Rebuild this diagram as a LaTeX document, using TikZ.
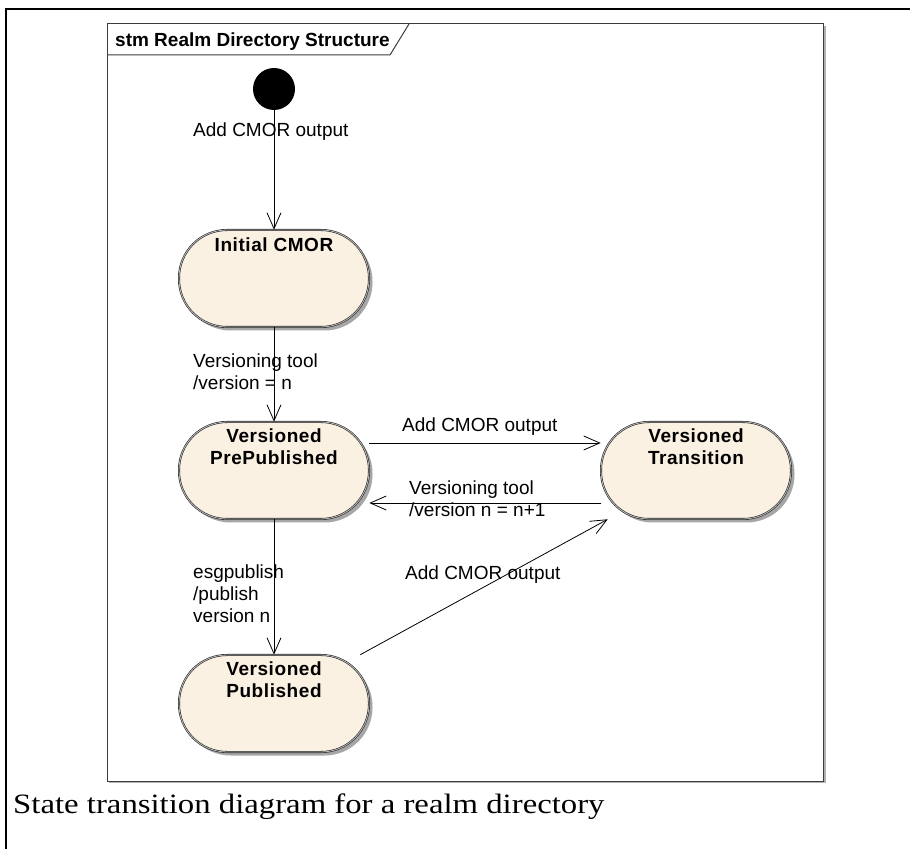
\documentclass[tikz,border=0pt]{standalone}
\usepackage{fontspec}
\setmainfont{Liberation Sans}
\newfontfamily\captionserif{Liberation Serif}
\usetikzlibrary{arrows.meta,shadows}
\definecolor{statefill}{RGB}{251,241,227}
\definecolor{framegray}{RGB}{60,60,60}
\newcommand\labelfont{\fontsize{19}{22}\selectfont}
\begin{document}
\begin{tikzpicture}[x=1pt,y=1pt,
  every node/.style={inner sep=0pt},
  state/.style={rectangle, rounded corners=48pt, minimum width=190pt, minimum height=97pt,
    fill=statefill, draw=black!85, line width=0.6pt, double=black!25, double distance=0.8pt,
    drop shadow={shadow xshift=3.5pt, shadow yshift=-3.5pt, fill=black!35, opacity=1}},
  statetext/.style={font=\bfseries\labelfont\addfontfeatures{LetterSpace=3}, anchor=base},
  lbl/.style={font=\labelfont, anchor=base west},
  trans/.style={draw=black, line width=0.8pt, -{Straight Barb[length=16pt,width=14pt]}}]
\useasboundingbox (0,0) rectangle (910,849);

% page border lines
\draw[line width=1.5pt] (6,0) -- (6,840) -- (910,840);

% diagram frame with its shadow and name tab
\draw[black!30, line width=1.5pt] (109,66.5) -- (824.8,66.5) -- (824.8,823);
\draw[framegray, line width=1pt] (107,68) rectangle (823,825);
\draw[framegray, line width=1pt] (107,794) -- (390,794) -- (409,825);
\node[anchor=base west, font=\bfseries\labelfont] (title) at (115,802) {stm Realm Directory Structure};

% initial pseudo-state
\node[circle, fill=black, minimum size=42pt] (init) at (274,760) {};

% states
\node[state] (s1) at (274,570.5) {};
\node[statetext] (s1t) at ([yshift=-22pt]s1.north) {Initial CMOR};
\node[state] (s2) at (274,378.5) {};
\node[statetext] (s2t) at ([yshift=-21pt]s2.north) {\begin{tabular}[t]{@{}c@{}}Versioned\\PrePublished\end{tabular}};
\node[state] (s3) at (696,378.5) {};
\node[statetext] (s3t) at ([yshift=-21pt]s3.north) {\begin{tabular}[t]{@{}c@{}}Versioned\\Transition\end{tabular}};
\node[state] (s4) at (274,145.5) {};
\node[statetext] (s4t) at ([yshift=-21pt]s4.north) {\begin{tabular}[t]{@{}c@{}}Versioned\\Published\end{tabular}};

% transitions
\draw[trans] (init) -- (s1);
\draw[trans] (s1) -- (s2);
\draw[trans] ([yshift=27.5pt]s2.east) -- ([yshift=27.5pt]s3.west);
\draw[trans] ([yshift=-32.5pt]s3.west) -- ([yshift=-32.5pt]s2.east);
\draw[trans] (s2) -- (s4);
\draw[trans] ([xshift=-9pt]s4.north east) -- ([xshift=7pt]s3.south west);

% transition labels
\node[lbl] (l1) at (193,712) {Add CMOR output};
\node[lbl] (l2) at (193,481) {\begin{tabular}[t]{@{}l@{}}Versioning tool\\/version = n\end{tabular}};
\node[lbl] (l3) at (402,417) {Add CMOR output};
\node[lbl] (l4) at (409,354) {\begin{tabular}[t]{@{}l@{}}Versioning tool\\/version n = n+1\end{tabular}};
\node[lbl] (l5) at (193,270) {\begin{tabular}[t]{@{}l@{}}esgpublish\\/publish\\version n\end{tabular}};
\node[lbl] (l6) at (405,269) {Add CMOR output};

% caption
\node[anchor=base west, font=\captionserif\fontsize{28}{32}\selectfont, xscale=1.17] (cap) at (13,36) {State transition diagram for a realm directory};
\end{tikzpicture}
\end{document}
